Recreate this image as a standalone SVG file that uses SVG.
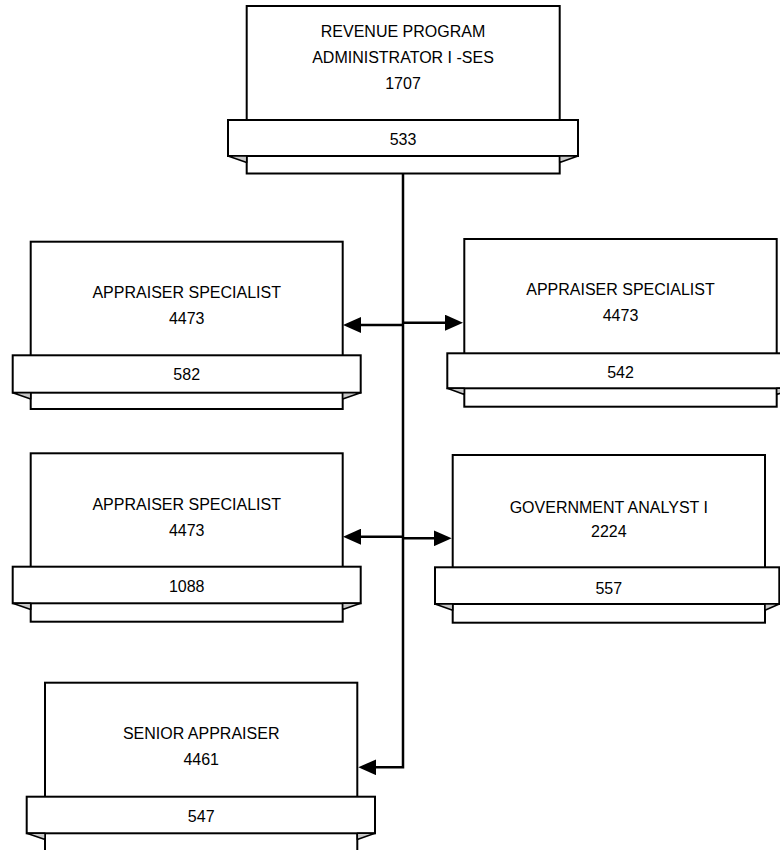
<svg xmlns="http://www.w3.org/2000/svg" width="780" height="850" viewBox="0 0 780 850">
  <style>
    .box { fill: #ffffff; stroke: #000000; stroke-width: 2; }
    .fold { fill: #c8c8c8; stroke: #000000; stroke-width: 1.5; stroke-linejoin: round; }
    .lbl { font-family: "Liberation Sans", Arial, sans-serif; font-size: 16px; fill: #000000; text-anchor: middle; }
    .wire { fill: none; stroke: #000000; stroke-width: 2.5; }
  </style>
  <defs>
    <marker id="arrow" markerUnits="userSpaceOnUse" viewBox="0 0 18 16" markerWidth="18" markerHeight="16" refX="14" refY="8" orient="auto">
      <path d="M0,0 L18,8 L0,16 Z" fill="#000000"/>
    </marker>
  </defs>

  <rect width="780" height="850" fill="#ffffff"/>

  <!-- connectors -->
  <g id="connectors">
    <path class="wire" d="M403,174 V767.3 H362.3" marker-end="url(#arrow)"/>
    <path class="wire" d="M403,325 H347" marker-end="url(#arrow)"/>
    <path class="wire" d="M403,322.7 H459" marker-end="url(#arrow)"/>
    <path class="wire" d="M403,536.7 H347" marker-end="url(#arrow)"/>
    <path class="wire" d="M403,538.3 H447.7" marker-end="url(#arrow)"/>
  </g>

  <!-- top: revenue program administrator -->
  <g id="node-1707">
    <rect class="box" x="246.7" y="6" width="313" height="167.5"/>
    <rect class="box" x="228" y="120" width="350" height="36"/>
    <path class="fold" d="M228,156 L246.7,156 L246.7,162.5 Z"/>
    <path class="fold" d="M578,156 L559.7,156 L559.7,162.5 Z"/>
    <text class="lbl" x="403" y="37.3">REVENUE PROGRAM</text>
    <text class="lbl" x="403" y="63.3">ADMINISTRATOR I -SES</text>
    <text class="lbl" x="403" y="89.3">1707</text>
    <text class="lbl" x="403" y="145">533</text>
  </g>

  <!-- appraiser specialist 582 -->
  <g id="node-582">
    <rect class="box" x="30.7" y="241.7" width="312" height="167.3"/>
    <rect class="box" x="12.7" y="355.3" width="348" height="37.4"/>
    <path class="fold" d="M12.7,392.7 L30.7,392.7 L30.7,399 Z"/>
    <path class="fold" d="M360.7,392.7 L342.7,392.7 L342.7,399 Z"/>
    <text class="lbl" x="186.7" y="298.3">APPRAISER SPECIALIST</text>
    <text class="lbl" x="186.7" y="324.3">4473</text>
    <text class="lbl" x="186.7" y="380">582</text>
  </g>

  <!-- appraiser specialist 542 -->
  <g id="node-542">
    <rect class="box" x="464.3" y="239" width="312.4" height="167.7"/>
    <rect class="box" x="447.3" y="353.3" width="347" height="35"/>
    <path class="fold" d="M447.3,388.3 L464.3,388.3 L464.3,394.5 Z"/>
    <path class="fold" d="M794.3,388.3 L776.7,388.3 L776.7,394.5 Z"/>
    <text class="lbl" x="620.5" y="295">APPRAISER SPECIALIST</text>
    <text class="lbl" x="620.5" y="320.7">4473</text>
    <text class="lbl" x="620.5" y="378.3">542</text>
  </g>

  <!-- appraiser specialist 1088 -->
  <g id="node-1088">
    <rect class="box" x="30.7" y="453.3" width="312" height="168.4"/>
    <rect class="box" x="12.7" y="566.7" width="348" height="36.6"/>
    <path class="fold" d="M12.7,603.3 L30.7,603.3 L30.7,609.5 Z"/>
    <path class="fold" d="M360.7,603.3 L342.7,603.3 L342.7,609.5 Z"/>
    <text class="lbl" x="186.7" y="510">APPRAISER SPECIALIST</text>
    <text class="lbl" x="186.7" y="536">4473</text>
    <text class="lbl" x="186.7" y="591.7">1088</text>
  </g>

  <!-- government analyst 557 -->
  <g id="node-557">
    <rect class="box" x="452.7" y="455" width="312.3" height="167.7"/>
    <rect class="box" x="435" y="567.3" width="344.3" height="36.7"/>
    <path class="fold" d="M435,604 L452.7,604 L452.7,610.3 Z"/>
    <path class="fold" d="M779.3,604 L765,604 L765,610.3 Z"/>
    <text class="lbl" x="608.8" y="513.3">GOVERNMENT ANALYST I</text>
    <text class="lbl" x="608.8" y="537.3">2224</text>
    <text class="lbl" x="608.8" y="594">557</text>
  </g>

  <!-- senior appraiser 547 -->
  <g id="node-547">
    <rect class="box" x="45" y="682.7" width="312.3" height="180"/>
    <rect class="box" x="26.7" y="796.7" width="348.3" height="36.6"/>
    <path class="fold" d="M26.7,833.3 L45,833.3 L45,839.5 Z"/>
    <path class="fold" d="M375,833.3 L357.3,833.3 L357.3,839.5 Z"/>
    <text class="lbl" x="201.2" y="739.3">SENIOR APPRAISER</text>
    <text class="lbl" x="201.2" y="765">4461</text>
    <text class="lbl" x="201.2" y="821.7">547</text>
  </g>
</svg>
